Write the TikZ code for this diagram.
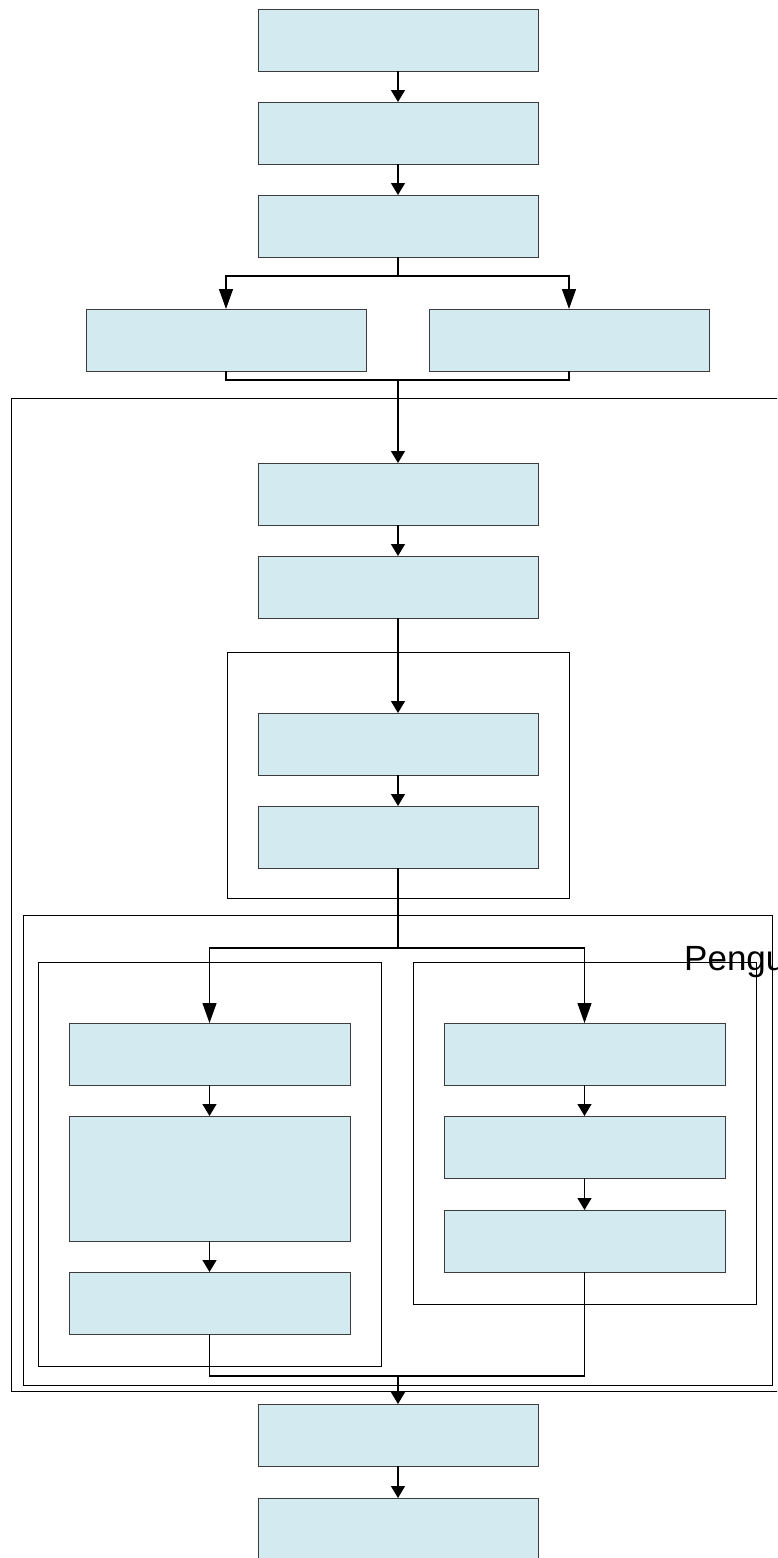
\documentclass[tikz,border=0pt]{standalone}
\usepackage{fontspec}
\setmainfont{Liberation Sans}
\usetikzlibrary{arrows.meta}
\definecolor{boxfill}{RGB}{210,234,240}
\definecolor{boxline}{RGB}{60,60,60}
\tikzset{
  proc/.style={draw=boxline, fill=boxfill, line width=0.8pt, minimum width=280pt, minimum height=62pt, inner sep=0pt, outer sep=0pt},
  frame/.style={draw=black, line width=0.8pt},
  flow/.style={line width=1.2pt, -{Triangle[width=14pt,length=12pt]}},
  bigflow/.style={line width=1.2pt, -{Triangle[width=14pt,length=20pt]}},
  link/.style={line width=1.2pt}
}
\begin{document}
\begin{tikzpicture}[x=1pt,y=-1pt]
\useasboundingbox (0,0) rectangle (777,1558);
\clip (0,0) rectangle (777,1558);
% frames
\draw[frame] (11,398) rectangle (790,1391);
\draw[frame] (227,652) rectangle (569,898);
\draw[frame] (23,915) rectangle (772,1385);
\draw[frame] (38,962) rectangle (381,1366);
\draw[frame] (413,962) rectangle (756,1304);
% boxes
\node[proc] (A) at (398,40) {};
\node[proc] (B) at (398,133) {};
\node[proc] (C) at (398,226) {};
\node[proc] (D) at (226,340) {};
\node[proc] (E) at (569,340) {};
\node[proc] (F) at (398,494) {};
\node[proc] (G) at (398,587) {};
\node[proc] (H) at (398,744) {};
\node[proc] (I) at (398,837) {};
\node[proc, minimum width=281pt] (J) at (209.5,1054) {};
\node[proc, minimum width=281pt, minimum height=125pt] (K) at (209.5,1178.5) {};
\node[proc, minimum width=281pt] (L) at (209.5,1303) {};
\node[proc, minimum width=281pt] (M) at (584.5,1054) {};
\node[proc, minimum width=281pt] (N) at (584.5,1147) {};
\node[proc, minimum width=281pt] (O) at (584.5,1241) {};
\node[proc] (P) at (398,1435) {};
\node[proc] (Q) at (398,1529) {};
% junction points
\coordinate (s1) at (398,276);
\coordinate (m1) at (398,380);
\coordinate (s2) at (398,948);
\coordinate (m2) at (398,1376);
% connectors
\draw[flow] (A) -- (B);
\draw[flow] (B) -- (C);
\draw[link] (C.south) -- (s1);
\draw[bigflow] (s1) -| (D.north);
\draw[bigflow] (s1) -| (E.north);
\draw[link] (D.south) |- (m1) -| (E.south);
\draw[flow] (m1) -- (F.north);
\draw[flow] (F) -- (G);
\draw[flow] (G) -- (H);
\draw[flow] (H) -- (I);
\draw[link] (I.south) -- (s2);
\draw[bigflow] (s2) -| (J.north);
\draw[bigflow] (s2) -| (M.north);
\draw[flow] (J) -- (K);
\draw[flow] (K) -- (L);
\draw[flow] (M) -- (N);
\draw[flow] (N) -- (O);
\draw[link] (L.south) |- (m2) -| (O.south);
\draw[flow] (m2) -- (P.north);
\draw[flow] (P) -- (Q);
% label
\node[anchor=base west, inner sep=0pt, font=\fontsize{35}{42}\selectfont] (title) at (684,970) {Pengu};
\end{tikzpicture}
\end{document}
